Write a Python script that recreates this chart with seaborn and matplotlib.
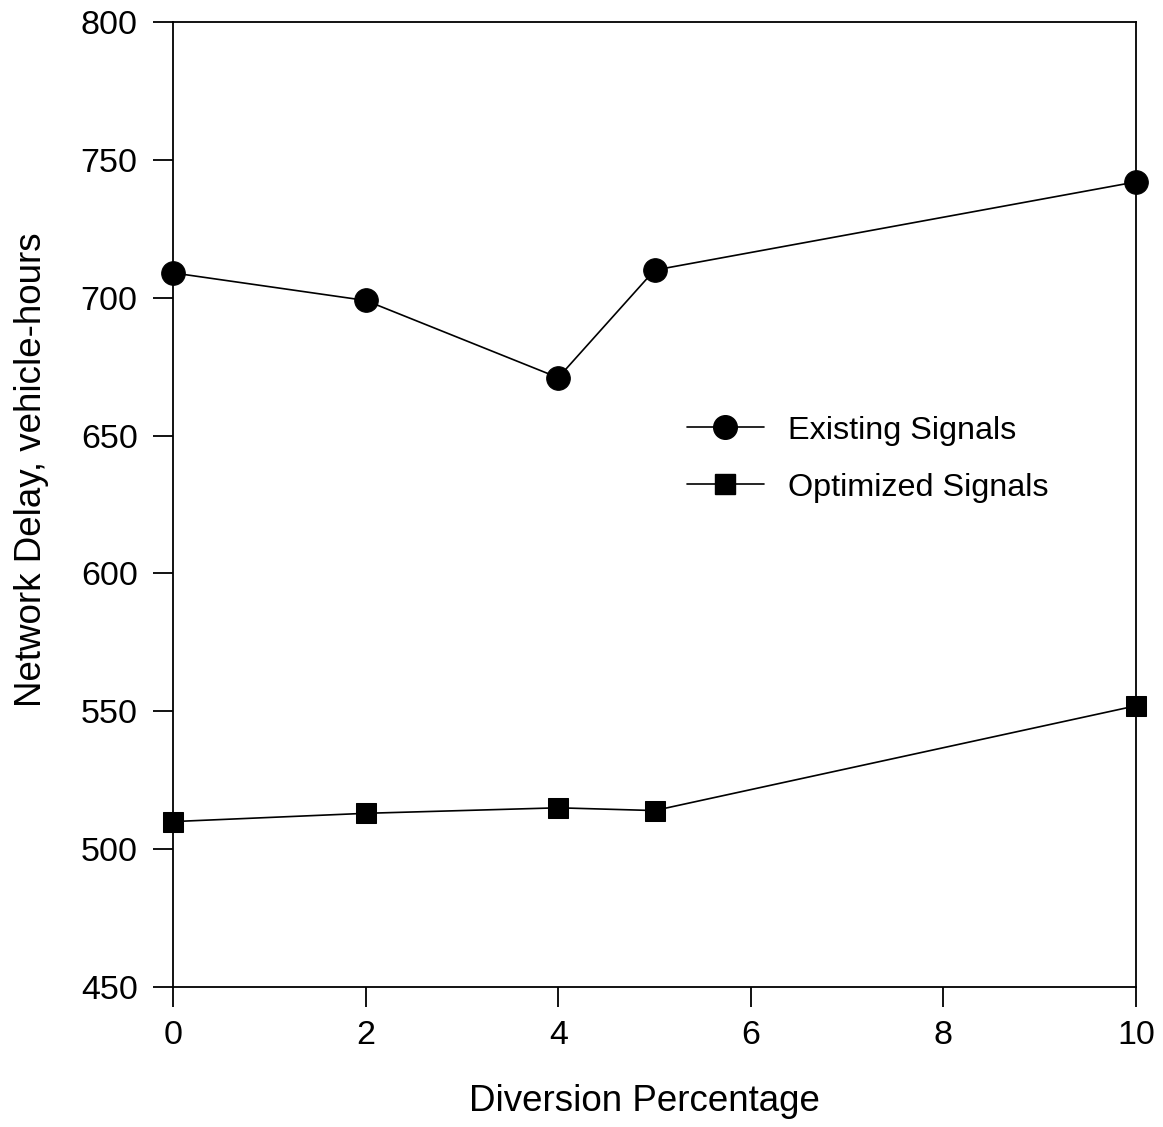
import matplotlib
matplotlib.use("Agg")
import matplotlib.pyplot as plt
import seaborn as sns
import pandas as pd
from matplotlib.lines import Line2D

diversion = [0, 2, 4, 5, 10]
existing = [709, 699, 671, 710, 742]
optimized = [510, 513, 515, 514, 552]
series_names = ["Existing Signals", "Optimized Signals"]

df = pd.DataFrame({
    "x": diversion * 2,
    "y": existing + optimized,
    "series": [series_names[0]] * len(diversion) + [series_names[1]] * len(diversion),
})

sns.set_style("white")
plt.rcParams["font.family"] = ["Liberation Sans", "DejaVu Sans"]
plt.rcParams["text.color"] = "black"
plt.rcParams["axes.labelcolor"] = "black"

fig = plt.figure(figsize=(11.63, 11.27), dpi=100)
ax = fig.add_axes([0.1488, 0.1242, 0.8280, 0.8563])

sns.lineplot(data=df, x="x", y="y", hue="series", style="series",
             markers={series_names[0]: "o", series_names[1]: "s"},
             dashes=False, palette={series_names[0]: "black", series_names[1]: "black"},
             linewidth=1.2, ax=ax, legend=False)
for line, ms in zip(ax.lines, [17, 14]):
    line.set_markersize(ms)
    line.set_markeredgecolor("black")
    line.set_markerfacecolor("black")
    line.set_clip_on(False)
    line.set_zorder(5)

ax.set_xlim(0, 10)
ax.set_ylim(450, 800)
ax.set_xticks([0, 2, 4, 6, 8, 10])
ax.set_yticks([450, 500, 550, 600, 650, 700, 750, 800])
ax.tick_params(direction="out", length=14.5, width=1.3, labelsize=24.5,
               bottom=True, left=True, colors="black")
ax.tick_params(axis="x", pad=9)
ax.tick_params(axis="y", pad=11)
for s in ax.spines.values():
    s.set_color("black")
    s.set_linewidth(1.3)
ax.set_xlabel("Diversion Percentage", fontsize=26.5, labelpad=24)
ax.set_ylabel("Network Delay, vehicle-hours", fontsize=26.5, labelpad=23)
ax.xaxis.label.set_x(0.490)
ax.yaxis.label.set_y(0.536)

handles = [Line2D([], [], color="black", marker="o", markersize=17, linewidth=1.2),
           Line2D([], [], color="black", marker="s", markersize=14, linewidth=1.2)]
ax.legend(handles, series_names, frameon=False, fontsize=23.3,
          loc="center left", bbox_to_anchor=(0.503, 0.547), handlelength=2.4,
          labelspacing=0.835, handletextpad=0.74, borderpad=0.4)

fig.savefig("out.png", dpi=100)
